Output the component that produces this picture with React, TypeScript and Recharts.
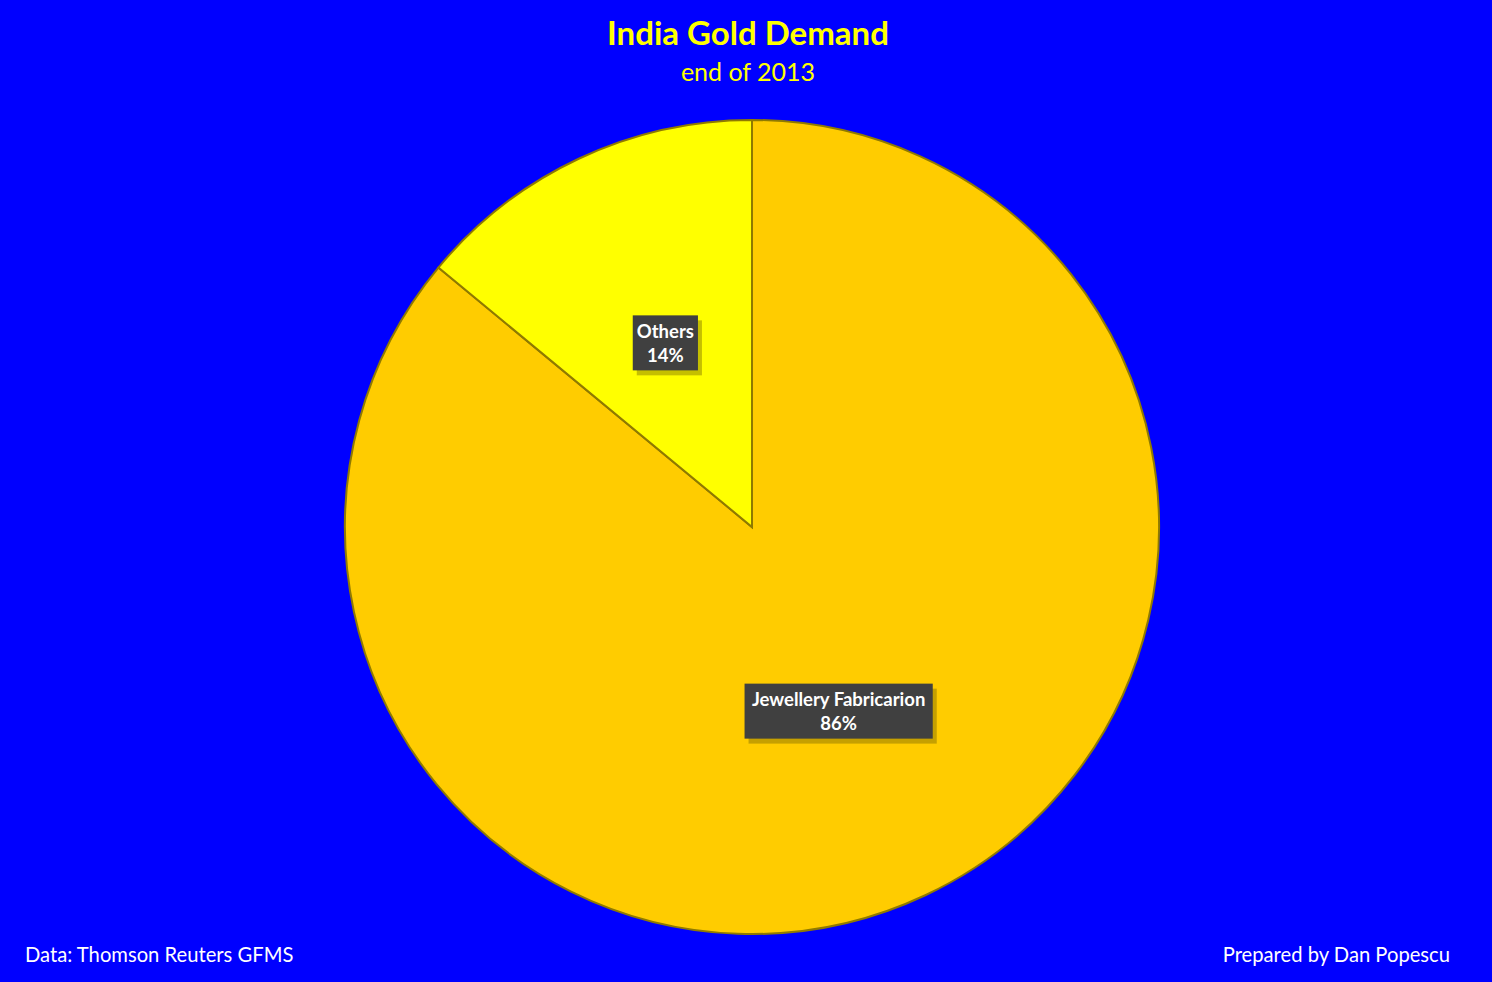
import { PieChart, Pie, Cell } from "recharts";

const segments = ["Jewellery Fabricarion", "Others"];
const shares = [86, 14];
const sliceColors = ["#FFCC00", "#FFFF00"];

const title = "India Gold Demand";
const subtitle = "end of 2013";
const source = "Data: Thomson Reuters GFMS";
const credit = "Prepared by Dan Popescu";

const data = segments.map((name, i) => ({ name, value: shares[i] }));

const FONT = "Lato, 'Open Sans', sans-serif";
const RAD = Math.PI / 180;

function SliceLabel(props: any) {
  const { cx, cy, midAngle, outerRadius, name, value } = props;
  const r = outerRadius * 0.5;
  const x = cx + r * Math.cos(-midAngle * RAD);
  const y = cy + r * Math.sin(-midAngle * RAD);
  const w = name.length * 8.2 + 16;
  const h = 55;
  return (
    <g>
      <rect x={x - w / 2 + 4} y={y - h / 2 + 5} width={w} height={h} fill="rgba(110,95,0,0.4)" />
      <rect x={x - w / 2} y={y - h / 2} width={w} height={h} fill="#404040" />
      <text
        x={x}
        y={y - 5}
        textAnchor="middle"
        fill="#fff"
        fontFamily={FONT}
        fontWeight={700}
        fontSize={18.5}
      >
        {name}
      </text>
      <text
        x={x}
        y={y + 19}
        textAnchor="middle"
        fill="#fff"
        fontFamily={FONT}
        fontWeight={700}
        fontSize={18.5}
      >
        {`${value}%`}
      </text>
    </g>
  );
}

export default function App() {
  return (
    <div
      style={{
        position: "absolute",
        left: 0,
        top: 0,
        width: 1492,
        height: 982,
        background: "#0000FF",
        fontFamily: FONT,
        overflow: "hidden",
      }}
    >
      <PieChart width={1492} height={982} margin={{ top: 0, right: 0, bottom: 0, left: 0 }}>
        <Pie
          data={data}
          dataKey="value"
          nameKey="name"
          cx={752}
          cy={527}
          outerRadius={407}
          startAngle={90}
          endAngle={-270}
          stroke="#8f7a00"
          strokeWidth={2}
          label={SliceLabel}
          labelLine={false}
          isAnimationActive={false}
        >
          {data.map((d, i) => (
            <Cell key={d.name} fill={sliceColors[i]} />
          ))}
        </Pie>
      </PieChart>
      <div
        style={{
          position: "absolute",
          top: 12,
          left: 0,
          width: 1496,
          textAlign: "center",
          color: "#FFFF00",
          fontWeight: 700,
          fontSize: 33,
        }}
      >
        {title}
      </div>
      <div
        style={{
          position: "absolute",
          top: 56,
          left: 0,
          width: 1496,
          textAlign: "center",
          color: "#FFFF00",
          fontSize: 25,
        }}
      >
        {subtitle}
      </div>
      <div
        style={{
          position: "absolute",
          top: 942,
          left: 25,
          color: "#fff",
          fontSize: 20.2,
        }}
      >
        {source}
      </div>
      <div
        style={{
          position: "absolute",
          top: 942,
          right: 42,
          color: "#fff",
          fontSize: 20.2,
        }}
      >
        {credit}
      </div>
    </div>
  );
}
